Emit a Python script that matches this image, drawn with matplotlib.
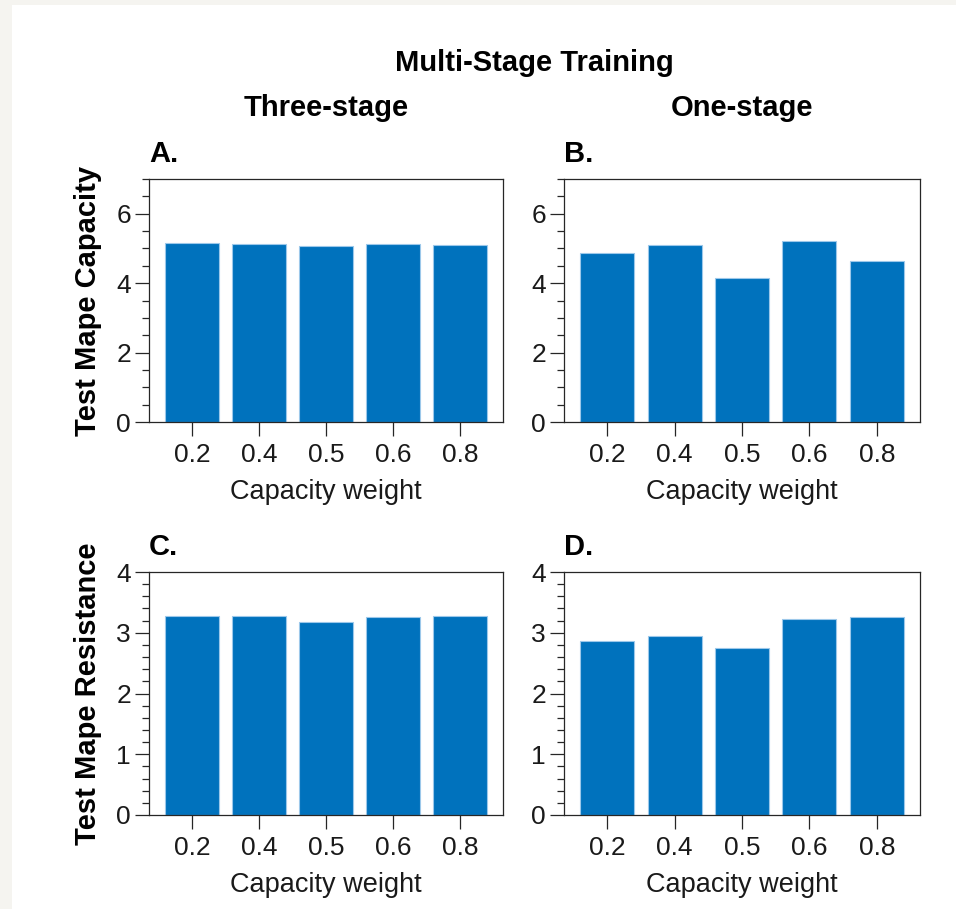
import matplotlib.pyplot as plt
from matplotlib.patches import Rectangle
from matplotlib.ticker import MultipleLocator

weights = ['0.2', '0.4', '0.5', '0.6', '0.8']
cap_three = [5.17, 5.13, 5.08, 5.14, 5.11]
cap_one = [4.86, 5.09, 4.16, 5.20, 4.64]
res_three = [3.27, 3.28, 3.18, 3.26, 3.27]
res_one = [2.87, 2.94, 2.75, 3.23, 3.26]

plt.rcParams['font.family'] = ['Liberation Sans', 'DejaVu Sans']

W, H = 956, 909
fig = plt.figure(figsize=(W / 100, H / 100), dpi=100)
fig.patch.set_facecolor('#f5f4f0')
fig.patches.append(Rectangle((12 / W, 0), 1 - 12 / W, 1 - 5 / H,
                             transform=fig.transFigure, facecolor='white',
                             edgecolor='none', zorder=-10))

spine_c = '#262626'
bar_c = '#0072BD'


def px_box(left, top, right, bottom):
    return [left / W, 1 - bottom / H, (right - left) / W, (bottom - top) / H]


def panel(box, values, ymax, minor, letter, ylabel=None):
    ax = fig.add_axes(px_box(*box))
    ax.bar(range(len(weights)), values, width=0.8, color=bar_c,
           edgecolor='#9cc8ea', linewidth=0.8)
    ax.set_xticks(range(len(weights)))
    ax.set_xticklabels(weights)
    ax.set_xlim(-0.64, 4.64)
    ax.set_ylim(0, ymax)
    ax.yaxis.set_major_locator(MultipleLocator(2 if ymax > 5 else 1))
    ax.yaxis.set_minor_locator(MultipleLocator(minor))
    ax.tick_params(axis='both', direction='out', colors=spine_c,
                   labelsize=19, width=0.9, length=10, labelcolor='#1a1a1a')
    ax.tick_params(axis='x', pad=5)
    ax.tick_params(axis='y', pad=3)
    ax.tick_params(axis='y', which='minor', direction='out', length=5,
                   width=0.9, colors=spine_c)
    ax.tick_params(axis='x', which='minor', bottom=False)
    for s in ax.spines.values():
        s.set_color(spine_c)
        s.set_linewidth(0.9)
    ax.set_xlabel('Capacity weight', fontsize=19.5, labelpad=9, color='#1a1a1a')
    if ylabel:
        ax.set_ylabel(ylabel, fontsize=21, fontweight='bold', labelpad=10)
    ax.text(0, 1.045, letter, transform=ax.transAxes, fontsize=21,
            fontweight='bold', ha='left', va='bottom')
    return ax


panel((149, 179, 503, 422), cap_three, 7, 0.5, 'A.', 'Test Mape Capacity')
panel((564, 179, 920, 422), cap_one, 7, 0.5, 'B.')
panel((149, 572, 503, 815), res_three, 4, 0.2, 'C.', 'Test Mape Resistance')
panel((564, 572, 920, 815), res_one, 4, 0.2, 'D.')

fig.text(534 / W, 1 - 63 / H, 'Multi-Stage Training', fontsize=21,
         fontweight='bold', ha='center', va='center')
fig.text(326 / W, 1 - 108 / H, 'Three-stage', fontsize=21,
         fontweight='bold', ha='center', va='center')
fig.text(742 / W, 1 - 108 / H, 'One-stage', fontsize=21,
         fontweight='bold', ha='center', va='center')

fig.savefig('out.png', dpi=100, facecolor=fig.get_facecolor())
